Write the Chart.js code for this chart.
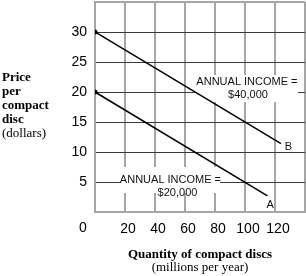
<!DOCTYPE html>
<html>
<head>
<meta charset="utf-8">
<script src="https://cdn.jsdelivr.net/npm/chart.js@4"></script>
<style>
  html, body { margin: 0; padding: 0; background: #fff; }
  #wrap { width: 306px; height: 276px; }
</style>
</head>
<body>
<div id="wrap"><canvas id="demandChart" width="306" height="276"></canvas></div>
<script>
// ── DATA ────────────────────────────────────────────────────

const curveNames = ['A', 'B'];
const quantityA = [0, 115];
const priceA    = [20, 2.7];
const quantityB = [0, 124];
const priceB    = [30, 11.4];
const incomeNotes = ['$20,000', '$40,000'];
const xTicks = [20, 40, 60, 80, 100, 120];
const yTicks = [5, 10, 15, 20, 25, 30];

const toPoints = (xs, ys) => xs.map((x, i) => ({ x: x, y: ys[i] }));

const GRID_LIGHT = '#a6a6a6';
const GRID_DARK  = '#3a3a3a';
const SANS  = '"Liberation Sans", Arial, sans-serif';
const SERIF = '"Liberation Serif", "Times New Roman", serif';


// ── LABELS / TITLES DRAWN ON CANVAS ─────────────────────────

const notesPlugin = {
  id: 'notes',
  beforeDatasetsDraw(chart) {
    const c = chart.ctx;
    c.save();
    c.fillStyle = '#fff';
    c.fillRect(120, 167, 100, 26);
    c.fillRect(197, 75, 101, 27);
    c.restore();
  },
  afterDraw(chart) {
    const c = chart.ctx;
    const xs = chart.scales.x, ys = chart.scales.y;
    const px = v => xs.getPixelForValue(v);
    const py = v => ys.getPixelForValue(v);
    c.save();
    c.fillStyle = '#111';
    c.textAlign = 'center';
    c.textBaseline = 'middle';

    c.font = '11px ' + SANS;
    c.fillText('ANNUAL INCOME =', px(50.3), py(5.33));
    c.fillText(incomeNotes[0], px(55), py(3.17));
    c.fillText('ANNUAL INCOME =', px(101.3), py(21.67));
    c.fillText(incomeNotes[1], px(102), py(19.5));
    c.fillText(curveNames[0], px(116.7), py(1.2));
    c.fillText(curveNames[1], px(129), py(10.8));

    // origin label sits left of the axis
    c.fillStyle = '#000';
    c.font = '14px ' + SANS;
    c.fillText('0', 83, 228);

    // y title, horizontal, stacked
    c.textAlign = 'left';
    c.textBaseline = 'alphabetic';
    c.font = 'bold 13px ' + SERIF;
    ['Price', 'per', 'compact', 'disc'].forEach((w, i) => c.fillText(w, 2, 81 + i * 14));
    c.font = '13px ' + SERIF;
    c.fillText('(dollars)', 2, 137);

    // x title
    c.textAlign = 'center';
    c.font = 'bold 13px ' + SERIF;
    c.fillText('Quantity of compact discs', 200, 258);
    c.font = '13px ' + SERIF;
    c.fillText('(millions per year)', 200, 271);
    c.restore();
  }
};


// ── CHART ───────────────────────────────────────────────────

const ctx = document.getElementById('demandChart').getContext('2d');

new Chart(ctx, {
  type: 'line',
  data: {
    datasets: [
      {
        label: curveNames[0],
        data: toPoints(quantityA, priceA),
        borderColor: '#000',
        borderWidth: 1.5,
        pointRadius: [2.5, 0],
        pointBackgroundColor: '#000',
        pointBorderWidth: 0,
      },
      {
        label: curveNames[1],
        data: toPoints(quantityB, priceB),
        borderColor: '#000',
        borderWidth: 1.5,
        pointRadius: [2.5, 0],
        pointBackgroundColor: '#000',
        pointBorderWidth: 0,
      }
    ]
  },
  options: {
    responsive: false,
    animation: false,
    layout: { autoPadding: false, padding: { top: 2, right: 1, left: 0, bottom: 0 } },
    plugins: {
      legend: { display: false },
      tooltip: { enabled: false }
    },
    scales: {
      x: {
        type: 'linear',
        min: 0,
        max: 140,
        afterFit: s => {
          s.height = 64;
          s.paddingLeft = 0;
          s.paddingRight = 0;
        },
        afterBuildTicks: s => { s.ticks = [0, ...xTicks, 140].map(v => ({ value: v })); },
        ticks: {
          callback: v => (xTicks.includes(v) ? String(v) : ''),
          font: { family: SANS, size: 14 },
          color: '#000',
          padding: 9,
          labelOffset: 3,
          maxRotation: 0,
          autoSkip: false
        },
        grid: { color: GRID_LIGHT, lineWidth: 2, drawTicks: false },
        border: { color: GRID_LIGHT, width: 2 }
      },
      y: {
        min: 0,
        max: 35,
        afterFit: s => {
          s.width = 95;
          s.paddingTop = 0;
          s.paddingBottom = 0;
        },
        afterBuildTicks: s => { s.ticks = [0, ...yTicks, 35].map(v => ({ value: v })); },
        ticks: {
          callback: v => (yTicks.includes(v) ? String(v) : ''),
          font: { family: SANS, size: 14 },
          color: '#000',
          padding: 8,
          autoSkip: false
        },
        grid: {
          color: c => (c.tick && (c.tick.value === 0 || c.tick.value === 35) ? GRID_LIGHT : GRID_DARK),
          lineWidth: c => (c.tick && (c.tick.value === 0 || c.tick.value === 35) ? 2 : 1),
          drawTicks: false
        },
        border: { color: GRID_LIGHT, width: 2 }
      }
    }
  },
  plugins: [notesPlugin]
});
</script>
</body>
</html>
